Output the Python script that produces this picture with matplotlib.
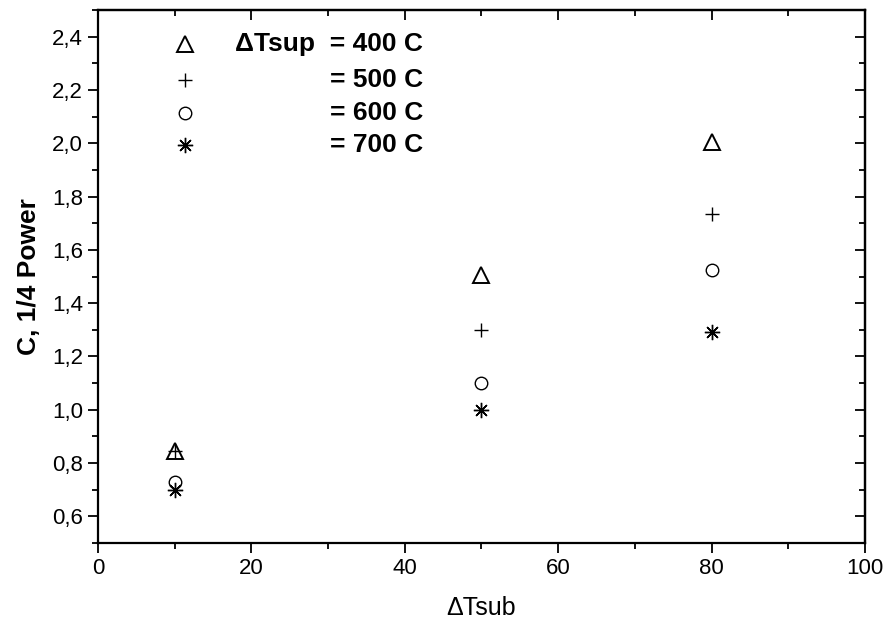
import matplotlib.pyplot as plt
from matplotlib.ticker import MultipleLocator, FuncFormatter

plt.rcParams['font.family'] = ['Liberation Sans', 'DejaVu Sans']

dt_sub = [10, 50, 80]
c_400 = [0.845, 1.505, 2.005]
c_500 = [0.845, 1.30, 1.735]
c_600 = [0.728, 1.10, 1.523]
c_700 = [0.697, 1.0, 1.29]
legend_labels = ['\u0394Tsup  = 400 C', '= 500 C', '= 600 C', '= 700 C']

star = (8, 2, 0)
styles = [dict(marker='^', ms=11, mew=1.4),
          dict(marker='+', ms=10, mew=1.0),
          dict(marker='o', ms=9, mew=1.0),
          dict(marker=star, ms=11, mew=1.0)]

fig = plt.figure(figsize=(8.88, 6.28), dpi=100)
ax = fig.add_axes([0.1104, 0.1354, 0.8636, 0.8486])

for ys, st in zip([c_400, c_500, c_600, c_700], styles):
    ax.plot(dt_sub, ys, linestyle='none', color='black', mfc='none', **st)

# key in the upper left corner
rows = [0.936, 0.869, 0.807, 0.747]
for lab, st, yy in zip(legend_labels, styles, rows):
    ax.plot([0.113], [yy], transform=ax.transAxes, linestyle='none',
            color='black', mfc='none', clip_on=False, **st)
    ax.text(0.424, yy, lab, transform=ax.transAxes, ha='right', va='center',
            fontsize=19, fontweight='bold')

ax.set_xlim(0, 100)
ax.set_ylim(0.5, 2.5)
ax.xaxis.set_major_locator(MultipleLocator(20))
ax.xaxis.set_minor_locator(MultipleLocator(10))
ax.yaxis.set_major_locator(MultipleLocator(0.2))
ax.yaxis.set_minor_locator(MultipleLocator(0.1))
ax.yaxis.set_major_formatter(FuncFormatter(lambda v, p: f'{v:.1f}'.replace('.', ',')))

ax.tick_params(which='both', direction='out', width=1.3, labelsize=16, pad=4)
ax.tick_params(which='major', length=7)
ax.tick_params(which='minor', length=4)

# inward ticks on the top and right sides
sec_x = ax.secondary_xaxis('top')
sec_x.xaxis.set_major_locator(MultipleLocator(20))
sec_x.xaxis.set_minor_locator(MultipleLocator(10))
sec_x.tick_params(which='both', direction='in', width=1.3, labeltop=False)
sec_x.tick_params(which='major', length=7)
sec_x.tick_params(which='minor', length=4)
sec_y = ax.secondary_yaxis('right')
sec_y.yaxis.set_major_locator(MultipleLocator(0.2))
sec_y.yaxis.set_minor_locator(MultipleLocator(0.1))
sec_y.tick_params(which='both', direction='in', width=1.3, labelright=False)
sec_y.tick_params(which='major', length=7)
sec_y.tick_params(which='minor', length=4)

for s in ax.spines.values():
    s.set_linewidth(1.6)
sec_x.spines['top'].set_linewidth(1.6)
sec_y.spines['right'].set_linewidth(1.6)

ax.set_xlabel('\u0394Tsub', fontsize=18, labelpad=12)
ax.set_ylabel('C, 1/4 Power', fontsize=19, fontweight='bold', labelpad=8)

fig.savefig('out.png', dpi=100)
